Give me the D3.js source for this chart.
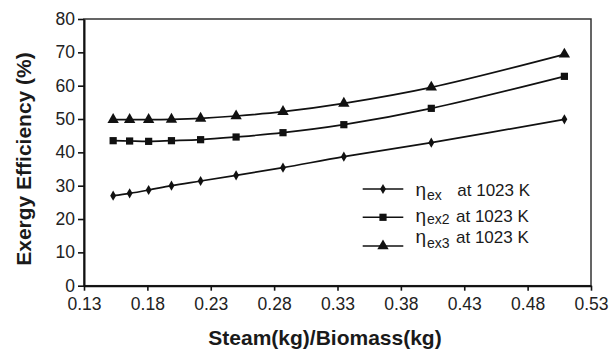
<!DOCTYPE html>
<html>
<head>
<meta charset="utf-8">
<script src="https://cdn.jsdelivr.net/npm/d3@7"></script>
<style>
  html, body { margin: 0; padding: 0; background: #fff; }
  svg { display: block; font-family: "Liberation Sans", Arial, sans-serif; }
</style>
</head>
<body>
<svg id="chart" width="613" height="350"></svg>
<script>
// Steam-to-biomass ratio (x) and exergy efficiencies (%) at 1023 K
const steamBiomass = [0.153, 0.166, 0.181, 0.199, 0.222, 0.250, 0.287, 0.335, 0.404, 0.509];
const etaEx  = [27.0, 27.7, 28.7, 30.0, 31.4, 33.1, 35.4, 38.7, 42.9, 49.9];
const etaEx2 = [43.5, 43.4, 43.3, 43.5, 43.8, 44.6, 45.9, 48.3, 53.2, 62.8];
const etaEx3 = [49.8, 49.8, 49.8, 49.9, 50.2, 50.9, 52.2, 54.7, 59.5, 69.4];
const xTicks = [0.13, 0.18, 0.23, 0.28, 0.33, 0.38, 0.43, 0.48, 0.53];
const yTicks = [0, 10, 20, 30, 40, 50, 60, 70, 80];
const seriesNames = ["ex", "ex2", "ex3"];
const legendSuffix = "at 1023 K";

const svg = d3.select("#chart");
const plotL = 84, plotR = 591, plotT = 19, plotB = 285.7;

const x = d3.scaleLinear().domain([0.13, 0.53]).range([plotL, plotR]);
const y = d3.scaleLinear().domain([0, 80]).range([plotB, plotT]);

// Plot frame
svg.append("rect")
  .attr("x", plotL).attr("y", plotT)
  .attr("width", plotR - plotL).attr("height", plotB - plotT)
  .attr("fill", "none").attr("stroke", "#333").attr("stroke-width", 1.5);

// Axes
const xAxis = svg.append("g")
  .attr("transform", `translate(0,${plotB})`)
  .call(d3.axisBottom(x).tickValues(xTicks).tickFormat(d3.format(".2f")).tickSize(5).tickSizeOuter(0));
const yAxis = svg.append("g")
  .attr("transform", `translate(${plotL},0)`)
  .call(d3.axisLeft(y).tickValues(yTicks).tickSize(6).tickSizeOuter(0));

[xAxis, yAxis].forEach(g => {
  g.select(".domain").attr("stroke", "#111").attr("stroke-width", 2);
  g.selectAll(".tick line").attr("stroke", "#111").attr("stroke-width", 1.6);
  g.selectAll(".tick text")
    .attr("fill", "#222")
    .style("font-size", "17.5px")
    .style("font-family", "'Liberation Sans', Arial, sans-serif");
});
xAxis.selectAll(".tick text").attr("y", 12);
yAxis.selectAll(".tick text").attr("x", -9);

// Axis titles
svg.append("text")
  .attr("x", 325).attr("y", 345)
  .attr("text-anchor", "middle")
  .attr("font-weight", "bold").attr("font-size", 21)
  .attr("fill", "#1a1a1a")
  .text("Steam(kg)/Biomass(kg)");
svg.append("text")
  .attr("transform", "translate(31,159) rotate(-90)")
  .attr("text-anchor", "middle")
  .attr("font-weight", "bold").attr("font-size", 21)
  .attr("fill", "#1a1a1a")
  .text("Exergy Efficiency (%)");

// Series
const series = [etaEx, etaEx2, etaEx3];
const symbols = [d3.symbolDiamond, d3.symbolSquare, d3.symbolTriangle];
const symSizes = [30, 52, 56];

const line = d3.line()
  .x((d, i) => x(steamBiomass[i]))
  .y(d => y(d))
  .curve(d3.curveCatmullRom.alpha(0.5));

series.forEach((vals, s) => {
  svg.append("path")
    .datum(vals)
    .attr("d", line)
    .attr("fill", "none")
    .attr("stroke", "#111")
    .attr("stroke-width", 1.7);
  svg.selectAll(null)
    .data(vals)
    .enter().append("path")
    .attr("transform", (d, i) => `translate(${x(steamBiomass[i])},${y(d)})`)
    .attr("d", d3.symbol().type(symbols[s]).size(symSizes[s]))
    .attr("fill", "#111");
});

// Legend
const legendRows = [189, 217.3, 246];
const textBase = [195.7, 221.7, 243.3];
const subShift = [4.3, 1.8, 4.4];
const textX = [457.3, 456, 456];
seriesNames.forEach((name, s) => {
  const g = svg.append("g");
  g.append("line")
    .attr("x1", 362.7).attr("x2", 403.3)
    .attr("y1", legendRows[s]).attr("y2", legendRows[s])
    .attr("stroke", "#111").attr("stroke-width", 1.6);
  g.append("path")
    .attr("transform", `translate(383,${legendRows[s]})`)
    .attr("d", d3.symbol().type(symbols[s]).size(symSizes[s]))
    .attr("fill", "#111");
  const t = g.append("text")
    .attr("x", 415.5).attr("y", textBase[s])
    .attr("font-size", 19).attr("fill", "#1a1a1a");
  t.append("tspan").text("\u03B7");
  t.append("tspan").attr("dx", 1).attr("dy", subShift[s]).attr("font-size", 14).text(name);
  g.append("text")
    .attr("x", textX[s]).attr("y", textBase[s])
    .attr("font-size", 17).attr("fill", "#1a1a1a")
    .text(legendSuffix);
});
</script>
</body>
</html>
